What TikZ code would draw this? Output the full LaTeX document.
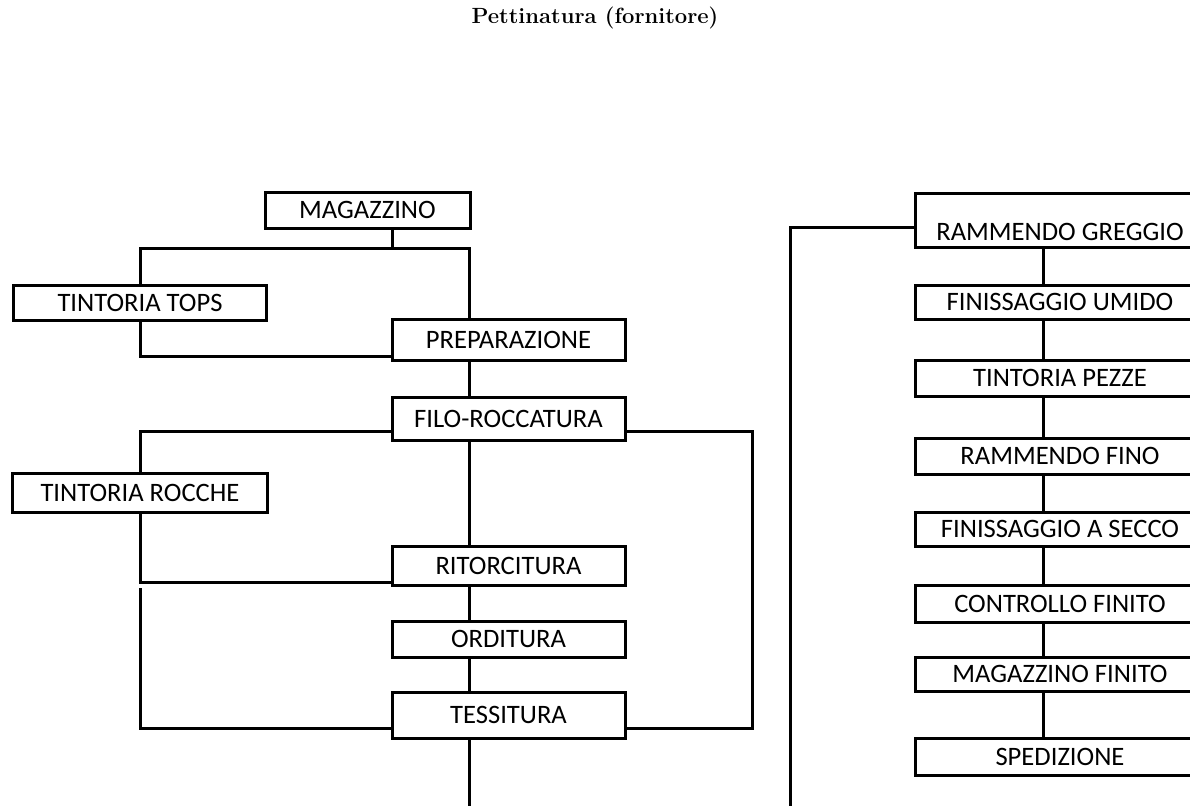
\documentclass[tikz,border=0pt]{standalone}
\usepackage{fontspec}
\newfontfamily\stagefont{Carlito}
\tikzset{
  stage/.style={draw, line width=1.5pt, inner sep=0pt,
    font=\stagefont\fontsize{13.3}{16}\selectfont},
  link/.style={line width=1.5pt},
}
\begin{document}
\begin{tikzpicture}[x=0.5pt, y=-0.5pt]
    \useasboundingbox (0,0) rectangle (1190,805);
    \clip (0,0) rectangle (1190,805);
    \node[font=\bfseries\fontsize{11}{13}\selectfont] (title) at (595,18) {Pettinatura (fornitore)};
    \node[stage, minimum width=102.5pt, minimum height=18pt] (mag) at (367.5,210) {MAGAZZINO};
    \node[stage, minimum width=126.5pt, minimum height=17.5pt] (tops) at (140,302.5) {TINTORIA TOPS};
    \node[stage, minimum width=116.5pt, minimum height=20.5pt] (prep) at (508.5,339.5) {PREPARAZIONE};
    \node[stage, minimum width=116.5pt, minimum height=21.5pt] (filo) at (508.5,418.5) {FILO-ROCCATURA};
    \node[stage, minimum width=127.5pt, minimum height=19.5pt] (rocche) at (140,492.5) {TINTORIA ROCCHE};
    \node[stage, minimum width=116.5pt, minimum height=19.5pt] (ritorc) at (508.5,565.5) {RITORCITURA};
    \node[stage, minimum width=116.5pt, minimum height=18pt] (ord) at (508.5,639) {ORDITURA};
    \node[stage, minimum width=116.5pt, minimum height=23pt] (tess) at (508.5,715) {TESSITURA};
    \node[stage, minimum width=145pt, minimum height=27pt, text height=23.8pt, text depth=3.2pt] (greggio) at (1060,220) {RAMMENDO GREGGIO};
    \node[stage, minimum width=145pt, minimum height=17pt] (umido) at (1060,302) {FINISSAGGIO UMIDO};
    \node[stage, minimum width=145pt, minimum height=18pt] (pezze) at (1060,378) {TINTORIA PEZZE};
    \node[stage, minimum width=145pt, minimum height=18pt] (fino) at (1060,456) {RAMMENDO FINO};
    \node[stage, minimum width=145pt, minimum height=17pt] (secco) at (1060,529) {FINISSAGGIO A SECCO};
    \node[stage, minimum width=145pt, minimum height=18.5pt] (contr) at (1060,603.5) {CONTROLLO FINITO};
    \node[stage, minimum width=145pt, minimum height=17pt] (magfin) at (1060,674) {MAGAZZINO FINITO};
    \node[stage, minimum width=145pt, minimum height=18.5pt] (sped) at (1060,756.5) {SPEDIZIONE};
    \coordinate (fork) at (392,248);
    \coordinate (lstem) at (469,0);
    \coordinate (rstem) at (1043,0);
    \coordinate (loopin) at (752,431);
    \coordinate (loopout) at (752,728);
    \coordinate (bypass) at (140,588);
    \coordinate (out1) at (469,812);
    \coordinate (in2) at (790,812);
    \draw[link] (mag.south -| fork) -- (fork);
    \draw[link] (tops.north) |- (fork) -| (prep.north -| lstem);
    \draw[link] (tops.south) |- ([yshift=2.5pt]prep.south west);
    \draw[link] (filo.west |- loopin) -| (rocche.north);
    \draw[link] (rocche.south) |- ([yshift=2pt]ritorc.south west);
    \draw[link] (bypass) |- (tess.west |- loopout);
    \draw[link] (filo.east |- loopin) -- (loopin) -- (loopout) -- (tess.east |- loopout);
    \foreach \a/\b in {prep/filo, filo/ritorc, ritorc/ord, ord/tess}
      \draw[link] (\a.south -| lstem) -- (\b.north -| lstem);
    \draw[link] (tess.south -| lstem) -- (out1);
    \draw[link] (in2) |- ([yshift=-3.5pt]greggio.west);
    \foreach \a/\b in {greggio/umido, umido/pezze, pezze/fino, fino/secco, secco/contr, contr/magfin, magfin/sped}
      \draw[link] (\a.south -| rstem) -- (\b.north -| rstem);
\end{tikzpicture}
\end{document}
